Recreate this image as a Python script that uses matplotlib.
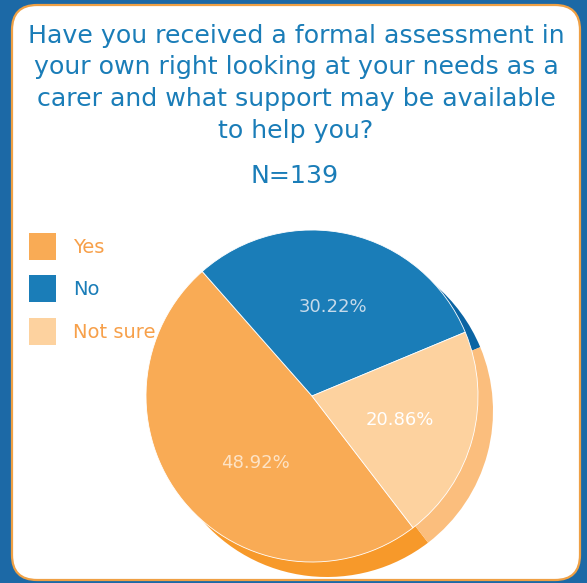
import matplotlib.pyplot as plt
from matplotlib.patches import FancyBboxPatch, Rectangle

# Respostas (N=139)
categorias = ["Yes", "No", "Not sure"]
contagens = [68, 42, 29]
cores_topo = ["#F9AB55", "#1A7DB8", "#FDD29F"]
cores_lado = ["#F7992A", "#0B64A3", "#FBBE7D"]
cores_legenda_txt = ["#F7A04A", "#1A7DB8", "#F7A04A"]
cores_pct = ["#FDE3C6", "#C6DAEA", "#FFFFFF"]

linhas_titulo = ["Have you received a formal assessment in",
                 "your own right looking at your needs as a",
                 "carer and what support may be available",
                 "to help you?"]

W, H = 587, 583
fig = plt.figure(figsize=(W / 100, H / 100), dpi=100)
fig.patch.set_facecolor("#1C69A6")
ax = fig.add_axes([0, 0, 1, 1])

# Painel branco com borda laranja
painel = FancyBboxPatch((12, 3), 568, 575, boxstyle="round,pad=0,rounding_size=25",
                        facecolor="white", edgecolor="#EFA044", linewidth=1.6, zorder=1)
ax.add_patch(painel)

# Título (uma linha por vez) e N
for linha, base in zip(linhas_titulo, [43, 74, 106, 138]):
    ax.text(296, H - base, linha, ha="center", va="baseline", fontsize=18.2,
            color="#1A7DB8", zorder=5)
ax.text(295, H - 183, "N=139", ha="center", va="baseline", fontsize=18.2,
        color="#1A7DB8", zorder=5)

# Pizza: lateral (deslocada) e topo
cx, cy, r = 312, H - 396, 166
dx, dy = 15, -15
ax.pie(contagens, colors=cores_lado, startangle=-52.5, counterclock=False,
       center=(cx + dx, cy + dy), radius=r, frame=True,
       wedgeprops=dict(linewidth=0, zorder=2))
fatias, _, pcts = ax.pie(contagens, colors=cores_topo, startangle=-52.5, counterclock=False,
                         center=(cx, cy), radius=r, frame=True,
                         autopct="%.2f%%", pctdistance=0.55,
                         wedgeprops=dict(edgecolor="white", linewidth=0.6, zorder=3),
                         textprops=dict(fontsize=13, zorder=6))
for t, c in zip(pcts, cores_pct):
    t.set_color(c)
# rótulo do "Yes" um pouco mais para dentro
x0, y0 = pcts[0].get_position()
pcts[0].set_position((x0 + 14, y0 - 9))

ax.set_xlim(0, W)
ax.set_ylim(0, H)
ax.set_aspect("equal")
ax.axis("off")

# Legenda
for i, (nome, cor, cor_txt) in enumerate(zip(categorias, cores_topo, cores_legenda_txt)):
    y_topo = [233, 275, 318][i]
    ax.add_patch(Rectangle((29, H - y_topo - 27), 27, 27, facecolor=cor,
                           edgecolor="none", zorder=5))
    ax.text(73, H - y_topo - 20, nome, ha="left", va="baseline", fontsize=14,
            color=cor_txt, zorder=5)

fig.savefig("out.png", dpi=100)
